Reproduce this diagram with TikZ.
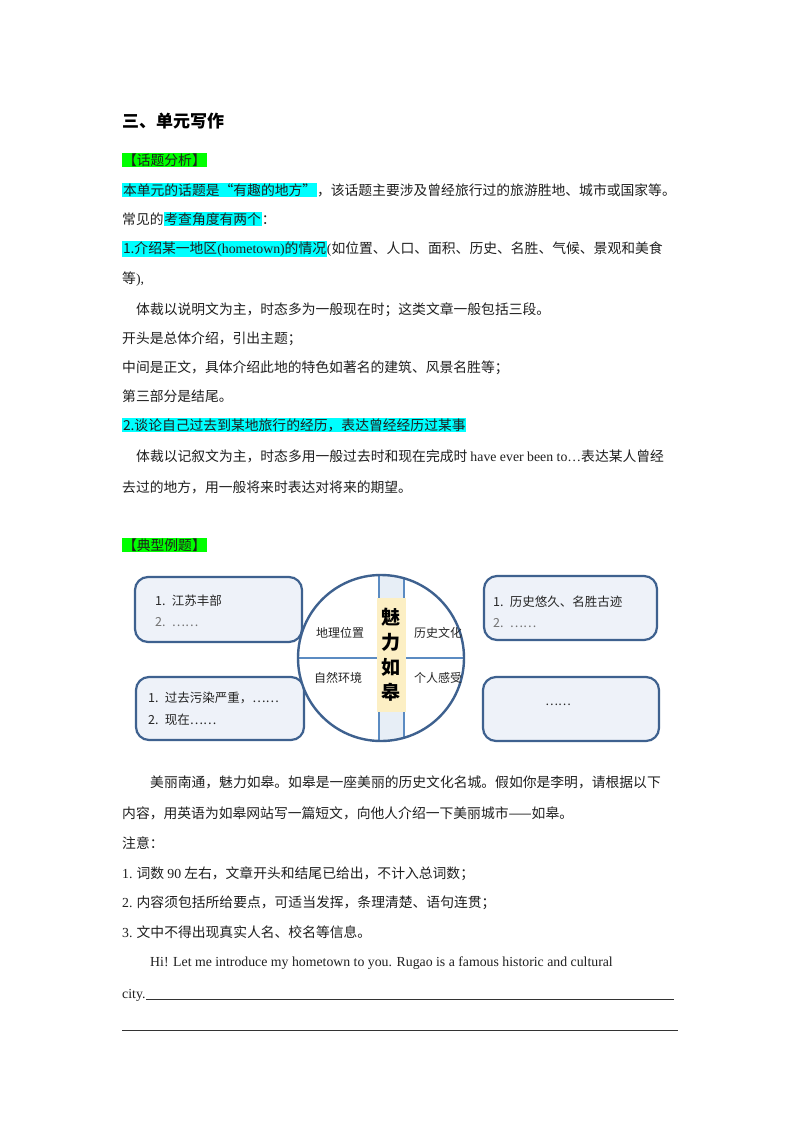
\documentclass[tikz,border=0pt]{standalone}
\usepackage{fontspec}
\setmainfont{Noto Sans CJK SC}
\newfontfamily\lat{Liberation Serif}
\usetikzlibrary{calc}
\definecolor{hcyan}{HTML}{00FFFF}
\definecolor{hgreen}{HTML}{00FF00}
\definecolor{bord}{HTML}{3E618F}
\definecolor{boxf}{HTML}{EEF2F9}
\definecolor{band}{HTML}{5B8BC2}
\definecolor{yel}{HTML}{FCEFC4}
\newcommand\hlc[1]{{\setlength\fboxsep{0.8pt}\colorbox{hcyan}{#1}}}
\newcommand\hlg[1]{{\setlength\fboxsep{0.8pt}\colorbox{hgreen}{#1}}}
\begin{document}
\begin{tikzpicture}[x=1pt,y=-1pt,
  ln/.style={anchor=base west,inner sep=0,font=\fontsize{13.8}{14}\selectfont,text=black!88},
  bx/.style={draw=bord,line width=2.2pt,fill=boxf,rounded corners=13pt},
  lab/.style={font=\fontsize{12}{12}\selectfont,text=black!85},
  it/.style={anchor=base west,inner sep=0,font=\fontsize{12.5}{13}\selectfont,text=black!85}]
\useasboundingbox (0,0) rectangle (800,1132);
\fill[white] (0,0) rectangle (800,1132);
\node[anchor=base west,inner sep=0,font=\fontsize{17}{18}\selectfont\bfseries] (t) at (122,127) {三、单元写作};
\node[ln] (l0) at (122,165) {\hlg{【话题分析】}};
\node[ln] (l1) at (122,195) {\hlc{本单元的话题是“有趣的地方”}，该话题主要涉及曾经旅行过的旅游胜地、城市或国家等。};
\node[ln] (l2) at (122,224) {常见的\hlc{考查角度有两个}：};
\node[ln] (l3) at (122,253) {\hlc{1.介绍某一地区{\lat (hometown)}的情况}{\lat (}如位置、人口、面积、历史、名胜、气候、景观和美食};
\node[ln] (l4) at (122,283) {等{\lat ),}};
\node[ln] (l5) at (136,314) {体裁以说明文为主，时态多为一般现在时；这类文章一般包括三段。};
\node[ln] (l6) at (122,343) {开头是总体介绍，引出主题；};
\node[ln] (l7) at (122,372) {中间是正文，具体介绍此地的特色如著名的建筑、风景名胜等；};
\node[ln] (l8) at (122,401) {第三部分是结尾。};
\node[ln] (l9) at (122,430) {\hlc{2.谈论自己过去到某地旅行的经历，表达曾经经历过某事}};
\node[ln] (l10) at (136,461) {体裁以记叙文为主，时态多用一般过去时和现在完成时 {\lat have ever been to…}表达某人曾经};
\node[ln] (l11) at (122,492) {去过的地方，用一般将来时表达对将来的期望。};
\node[ln] (l12) at (122,550) {\hlg{【典型例题】}};
% diagram
\draw[bx] (135,577) rectangle (302,642);
\draw[bx] (484,576) rectangle (657,640);
\draw[bx] (136,677) rectangle (304,740);
\draw[bx] (483,677) rectangle (659,741);
\coordinate (c) at (381,658);
\fill[white] (c) circle (83);
\begin{scope}
\clip (c) circle (83);
\fill[band!15] (379,560) rectangle (404,760);
\draw[band,line width=1.6pt] (379,560) -- (379,760) (404,560) -- (404,760);
\draw[band,line width=1.6pt] (290,658) -- (475,658);
\end{scope}
\draw[bord,line width=2.4pt] (c) circle (83);
\node[fill=yel,inner sep=0,minimum width=29pt,minimum height=114pt] (ctr) at (391,655) {};
\node[font=\fontsize{19}{25}\selectfont\bfseries,align=center,text=black] (ct) at (ctr) {魅\\力\\如\\皋};
\node[lab] (a1) at (340,633) {地理位置};
\node[lab] (a2) at (438,633) {历史文化};
\node[lab] (a3) at (338,678) {自然环境};
\node[lab] (a4) at (438,678) {个人感受};
\node[it] (b1) at (155,605) {1.\enspace 江苏丰部};
\node[it,text=black!55] (b2) at (155,626) {2.\enspace ……};
\node[it] (b3) at (493,606) {1.\enspace 历史悠久、名胜古迹};
\node[it,text=black!55] (b4) at (493,627) {2.\enspace ……};
\node[it] (b5) at (148,702) {1.\enspace 过去污染严重，……};
\node[it] (b6) at (148,724) {2.\enspace 现在……};
\node[lab] (b7) at (558,705) {……};
% lower text
\node[ln] (m1) at (150,787) {美丽南通，魅力如皋。如皋是一座美丽的历史文化名城。假如你是李明，请根据以下};
\node[ln] (m2) at (122,818) {内容，用英语为如皋网站写一篇短文，向他人介绍一下美丽城市——如皋。};
\node[ln] (m3) at (122,848) {注意：};
\node[ln] (m4) at (122,878) {{\lat 1.} 词数 {\lat 90} 左右，文章开头和结尾已给出，不计入总词数；};
\node[ln] (m5) at (122,907) {{\lat 2.} 内容须包括所给要点，可适当发挥，条理清楚、语句连贯；};
\node[ln] (m6) at (122,937) {{\lat 3.} 文中不得出现真实人名、校名等信息。};
\node[ln,font=\fontsize{13.8}{14}\lat] (m7) at (150,966) {Hi! Let me introduce my hometown to you. Rugao is a famous historic and cultural};
\node[ln,font=\fontsize{13.8}{14}\lat] (m8) at (122,998) {city.};
\coordinate (u1) at (146,999); \coordinate (u2) at (674,999);
\draw[black!80,line width=0.6pt] (u1) -- (u2);
\coordinate (u3) at (122,1030); \coordinate (u4) at (678,1030);
\draw[black!80,line width=0.6pt] (u3) -- (u4);
\end{tikzpicture}
\end{document}
